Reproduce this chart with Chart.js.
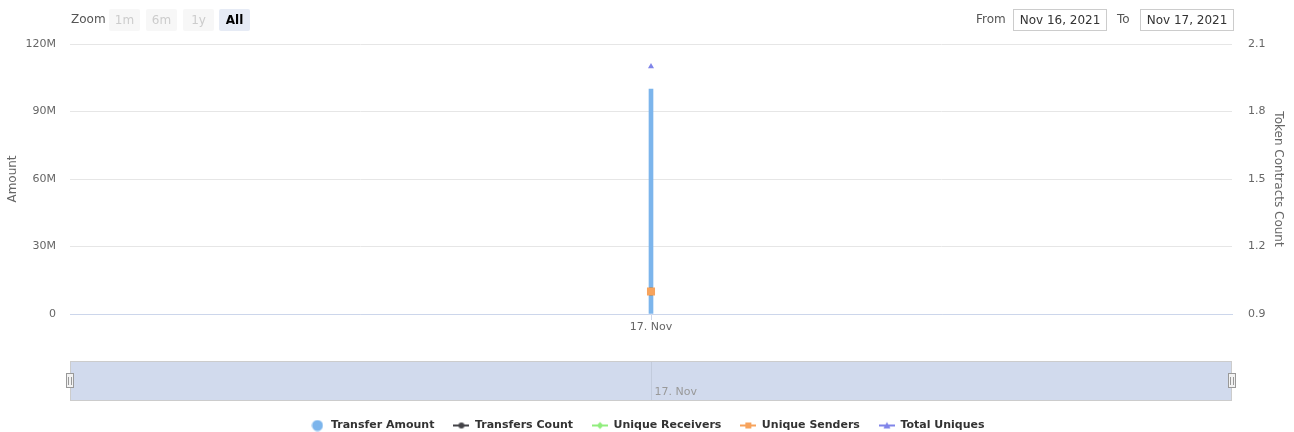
<!DOCTYPE html>
<html>
<head>
<meta charset="utf-8">
<script src="https://cdn.jsdelivr.net/npm/chart.js@4.4.0/dist/chart.umd.min.js"></script>
<style>
body { margin: 0; background: #fff; font-family: "DejaVu Sans", sans-serif; overflow: hidden; }
#wrap { position: relative; width: 1294px; height: 432px; overflow: hidden; }
.txt { position: absolute; top: 11px; font-size: 12px; color: #555; line-height: 16px; }
.btn { position: absolute; top: 9px; height: 22px; width: 31px; background: #f7f7f7; color: #ccc;
       font-size: 12px; line-height: 22px; text-align: center; border-radius: 2px; }
.btn.sel { background: #e6ebf5; color: #000; font-weight: bold; }
.inp { position: absolute; top: 9px; height: 20px; width: 92px; border: 1px solid #ccc;
       font-size: 12px; line-height: 20px; text-align: center; color: #333; }
</style>
</head>
<body>
<div id="wrap">
  <canvas id="chartTransfers" width="1294" height="441"></canvas>
  <div class="txt" style="left:71px">Zoom</div>
  <div class="btn" style="left:109px">1m</div>
  <div class="btn" style="left:146px">6m</div>
  <div class="btn" style="left:183px">1y</div>
  <div class="btn sel" style="left:219px">All</div>
  <div class="txt" style="left:976px">From</div>
  <div class="inp" style="left:1013px">Nov 16, 2021</div>
  <div class="txt" style="left:1117px">To</div>
  <div class="inp" style="left:1140px">Nov 17, 2021</div>
</div>
<script>
var categories = ['17. Nov'];
var transferAmount = [100000000];
var transfersCount = [1];
var uniqueReceivers = [1];
var uniqueSenders = [1];
var totalUniques = [2];
var amountTicks = [0, 30000000, 60000000, 90000000, 120000000];
var countTicks = [0.9, 1.2, 1.5, 1.8, 2.1];

var FONT = '"DejaVu Sans", sans-serif';

// legend symbols like highcharts: a short line with the marker on it
function lineSymbol(color, shape) {
    var c = document.createElement('canvas');
    c.width = 16; c.height = 12;
    var g = c.getContext('2d');
    g.strokeStyle = color; g.lineWidth = 2;
    g.beginPath(); g.moveTo(0, 6); g.lineTo(16, 6); g.stroke();
    g.fillStyle = color;
    g.beginPath();
    if (shape == 'circle') g.arc(8, 6, 3, 0, Math.PI * 2);
    if (shape == 'diamond') { g.moveTo(8, 2.5); g.lineTo(11.5, 6); g.lineTo(8, 9.5); g.lineTo(4.5, 6); }
    if (shape == 'square') g.rect(5, 3, 6, 6);
    if (shape == 'triangle') { g.moveTo(8, 2.5); g.lineTo(11.5, 9); g.lineTo(4.5, 9); }
    g.fill();
    return c;
}
function dotSymbol(color) {
    var c = document.createElement('canvas');
    c.width = 12; c.height = 12;
    var g = c.getContext('2d');
    g.fillStyle = color;
    g.beginPath(); g.arc(6, 6, 5.5, 0, Math.PI * 2); g.fill();
    return c;
}
var symbols = [
    dotSymbol('#7cb5ec'),
    lineSymbol('#434348', 'circle'),
    lineSymbol('#90ed7d', 'diamond'),
    lineSymbol('#f7a35c', 'square'),
    lineSymbol('#8085e9', 'triangle')
];

// the little range navigator strip under the x axis
var navStrip = {
    id: 'navStrip',
    afterDraw: function (chart) {
        var ctx = chart.ctx;
        var left = chart.chartArea.left, right = chart.chartArea.right;
        var top = 361, h = 40;
        ctx.save();
        ctx.fillStyle = 'rgba(102,133,194,0.3)';
        ctx.fillRect(left, top, right - left, h);
        ctx.strokeStyle = '#cccccc';
        ctx.lineWidth = 1;
        ctx.strokeRect(left + 0.5, top + 0.5, right - left - 1, h - 1);
        var x = Math.round(chart.scales.x.getPixelForValue(0)) + 0.5;
        ctx.strokeStyle = 'rgba(0,0,0,0.07)';
        ctx.beginPath(); ctx.moveTo(x, top + 1); ctx.lineTo(x, top + h - 1); ctx.stroke();
        ctx.fillStyle = '#999';
        ctx.font = '11px ' + FONT;
        ctx.textBaseline = 'middle';
        ctx.fillText(categories[0], x + 3, 392);
        [left, right].forEach(function (hx) {
            hx = Math.round(hx);
            ctx.fillStyle = '#f2f2f2';
            ctx.strokeStyle = '#999';
            ctx.fillRect(hx - 3.5, 373.5, 7, 14);
            ctx.strokeRect(hx - 3.5, 373.5, 7, 14);
            ctx.beginPath();
            ctx.moveTo(hx - 1.5, 377); ctx.lineTo(hx - 1.5, 385);
            ctx.moveTo(hx + 1.5, 377); ctx.lineTo(hx + 1.5, 385);
            ctx.stroke();
        });
        ctx.restore();
    }
};

var ctx = document.getElementById('chartTransfers');
var myChart = new Chart(ctx, {
    type: 'bar',
    data: {
        labels: categories,
        datasets: [{
            type: 'bar',
            label: 'Transfer Amount',
            data: transferAmount,
            yAxisID: 'y',
            backgroundColor: '#7cb5ec',
            barThickness: 4,
            order: 5
        }, {
            type: 'line',
            label: 'Transfers Count',
            data: transfersCount,
            yAxisID: 'y1',
            borderColor: '#434348',
            backgroundColor: '#434348',
            pointStyle: 'circle',
            pointRadius: 4,
            pointBorderWidth: 0,
            order: 4
        }, {
            type: 'line',
            label: 'Unique Receivers',
            data: uniqueReceivers,
            yAxisID: 'y1',
            borderColor: '#90ed7d',
            backgroundColor: '#90ed7d',
            pointStyle: 'rectRot',
            pointRadius: 4,
            pointBorderWidth: 0,
            order: 3
        }, {
            type: 'line',
            label: 'Unique Senders',
            data: uniqueSenders,
            yAxisID: 'y1',
            borderColor: '#f7a35c',
            backgroundColor: '#f7a35c',
            pointStyle: 'rect',
            pointRadius: 5.7,
            pointBorderWidth: 0,
            order: 2
        }, {
            type: 'line',
            label: 'Total Uniques',
            data: totalUniques,
            yAxisID: 'y1',
            borderColor: '#8085e9',
            backgroundColor: '#8085e9',
            pointStyle: 'triangle',
            pointRadius: 3.5,
            pointBorderWidth: 0,
            order: 1
        }]
    },
    options: {
        responsive: false,
        animation: false,
        layout: { padding: { top: 44, left: 0, right: 0, bottom: 0 } },
        plugins: {
            tooltip: { enabled: false },
            legend: {
                position: 'bottom',
                labels: {
                    usePointStyle: true,
                    pointStyleWidth: 16,
                    padding: 19,
                    color: '#333',
                    font: { family: FONT, size: 11, weight: 'bold' },
                    sort: function (a, b) { return a.datasetIndex - b.datasetIndex; },
                    generateLabels: function (chart) {
                        return Chart.defaults.plugins.legend.labels.generateLabels(chart).map(function (l) {
                            l.pointStyle = symbols[l.datasetIndex];
                            return l;
                        });
                    }
                }
            }
        },
        scales: {
            x: {
                offset: true,
                grid: { offset: false, drawOnChartArea: false, drawTicks: true, tickLength: 6, color: '#ccd6eb' },
                border: { color: '#ccd6eb' },
                ticks: { color: '#666', font: { family: FONT, size: 11 }, padding: 1, maxRotation: 0 },
                afterFit: function (s) { s.height = 87; }
            },
            y: {
                position: 'left',
                min: 0,
                max: 120000000,
                afterBuildTicks: function (s) { s.ticks = amountTicks.map(function (v) { return { value: v }; }); },
                grid: { color: '#e6e6e6', drawTicks: false },
                border: { display: false },
                ticks: {
                    color: '#666', font: { family: FONT, size: 11 }, padding: 14,
                    callback: function (v) { return v == 0 ? '0' : (v / 1000000) + 'M'; }
                },
                title: { display: true, text: 'Amount', color: '#666', font: { family: FONT, size: 12 }, padding: { top: 6 } },
                afterFit: function (s) { s.width = 70; }
            },
            y1: {
                position: 'right',
                min: 0.9,
                max: 2.1,
                afterBuildTicks: function (s) { s.ticks = countTicks.map(function (v) { return { value: v }; }); },
                grid: { drawOnChartArea: false, drawTicks: false },
                border: { display: false },
                ticks: {
                    color: '#666', font: { family: FONT, size: 11 }, padding: 16,
                    callback: function (v) { return v.toFixed(1); }
                },
                title: { display: true, text: 'Token Contracts Count', color: '#666', font: { family: FONT, size: 12 }, padding: { top: 9 } },
                afterFit: function (s) { s.width = 62; }
            }
        }
    },
    plugins: [navStrip]
});

console.log("myChart: ", myChart.chartArea);
</script>
</body>
</html>
